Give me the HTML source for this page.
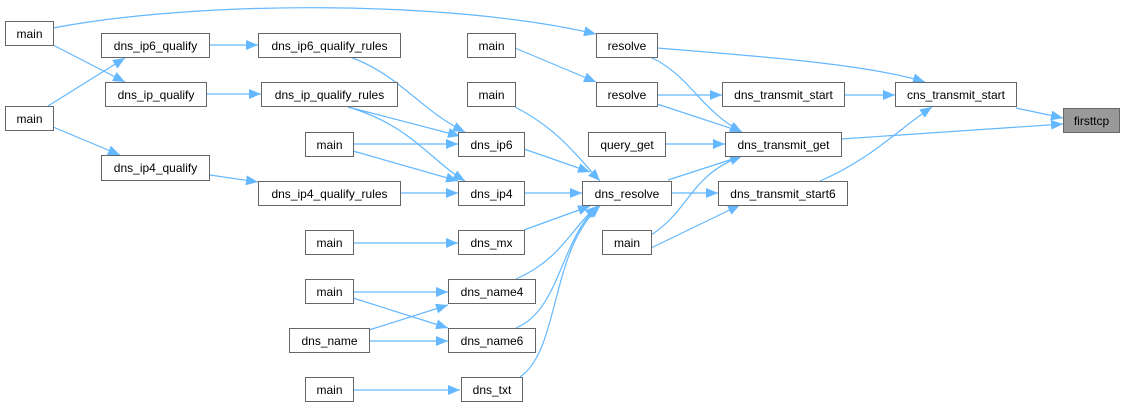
<!DOCTYPE html>
<html><head><meta charset="utf-8"><style>
html,body{margin:0;padding:0;background:#fff;}
svg{display:block;}
text{font-family:"Liberation Sans",Arial,sans-serif;font-size:12px;fill:#000;}
</style></head><body>
<svg width="1125" height="408" viewBox="0 0 1125 408" xmlns="http://www.w3.org/2000/svg">
<defs><marker id="a" markerUnits="userSpaceOnUse" markerWidth="13" markerHeight="10" refX="12" refY="5" orient="auto"><path d="M0,0 L12,5 L0,10 z" fill="#63b8ff"/></marker></defs>
<g fill="none" stroke="#63b8ff" stroke-width="1.2" marker-end="url(#a)">
<path d="M53,28 C200,0 450,0 596,34"/>
<path d="M53,45 L125,82"/>
<path d="M48,106 L125,58"/>
<path d="M53,127 L120,155"/>
<path d="M210,45 L258,45"/>
<path d="M206,94 L261,94"/>
<path d="M210,175 L258,182"/>
<path d="M350,57 C400,75 420,110 465,132"/>
<path d="M348,107 L460,136"/>
<path d="M348,107 C410,125 430,160 465,181"/>
<path d="M353,144 L458,144"/>
<path d="M353,151 L458,181"/>
<path d="M400,193 L458,193"/>
<path d="M524,149 L590,172"/>
<path d="M524,193 L582,193"/>
<path d="M524,230 L590,206"/>
<path d="M516,279 C560,260 570,230 597,206"/>
<path d="M516,328 C560,310 560,240 598,206"/>
<path d="M520,377 C560,350 550,250 600,206"/>
<path d="M515,107 C560,130 580,160 600,181"/>
<path d="M515,48 L596,82"/>
<path d="M353,243 L458,243"/>
<path d="M353,292 L448,292"/>
<path d="M353,298 L448,328"/>
<path d="M369,330 L448,305"/>
<path d="M369,341 L448,341"/>
<path d="M353,390 L460,390"/>
<path d="M657,48 C770,57 870,65 925,82"/>
<path d="M650,57 C690,75 700,110 742,132"/>
<path d="M657,95 L722,95"/>
<path d="M657,104 L742,132"/>
<path d="M665,144 L725,144"/>
<path d="M668,180 L742,156"/>
<path d="M671,193 L718,193"/>
<path d="M651,235 C690,210 690,175 742,156"/>
<path d="M651,248 L740,205"/>
<path d="M820,181 C870,160 900,128 932,107"/>
<path d="M844,95 L895,95"/>
<path d="M1016,108 L1063,118"/>
<path d="M841,139 L1063,124"/>
</g>
<g stroke="#666" stroke-width="1" fill="#fff">
<rect x="5.5" y="21.5" width="48" height="24"/>
<rect x="101.5" y="33.5" width="108" height="24"/>
<rect x="258.5" y="33.5" width="142" height="24"/>
<rect x="467.5" y="33.5" width="48" height="24"/>
<rect x="596.5" y="33.5" width="61" height="24"/>
<rect x="105.5" y="82.5" width="101" height="24"/>
<rect x="261.5" y="82.5" width="136" height="24"/>
<rect x="467.5" y="82.5" width="48" height="24"/>
<rect x="596.5" y="82.5" width="61" height="24"/>
<rect x="722.5" y="82.5" width="122" height="24"/>
<rect x="895.5" y="82.5" width="121" height="24"/>
<rect x="1063.5" y="108.5" width="56" height="24" fill="#999"/>
<rect x="5.5" y="106.5" width="48" height="24"/>
<rect x="305.5" y="132.5" width="48" height="24"/>
<rect x="458.5" y="132.5" width="66" height="24"/>
<rect x="588.5" y="132.5" width="77" height="24"/>
<rect x="725.5" y="132.5" width="116" height="24"/>
<rect x="101.5" y="155.5" width="108" height="25"/>
<rect x="258.5" y="181.5" width="142" height="24"/>
<rect x="458.5" y="181.5" width="66" height="24"/>
<rect x="582.5" y="181.5" width="89" height="24"/>
<rect x="718.5" y="181.5" width="129" height="24"/>
<rect x="305.5" y="230.5" width="48" height="24"/>
<rect x="458.5" y="230.5" width="66" height="24"/>
<rect x="602.5" y="230.5" width="49" height="24"/>
<rect x="305.5" y="279.5" width="48" height="24"/>
<rect x="448.5" y="279.5" width="87" height="24"/>
<rect x="289.5" y="328.5" width="80" height="24"/>
<rect x="448.5" y="328.5" width="87" height="24"/>
<rect x="305.5" y="377.5" width="48" height="24"/>
<rect x="461.5" y="377.5" width="61" height="24"/>
</g>
<g text-anchor="middle">
<text x="29.5" y="38">main</text>
<text x="155.5" y="50">dns_ip6_qualify</text>
<text x="329.5" y="50">dns_ip6_qualify_rules</text>
<text x="491.5" y="50">main</text>
<text x="627" y="50">resolve</text>
<text x="156" y="99">dns_ip_qualify</text>
<text x="329.5" y="99">dns_ip_qualify_rules</text>
<text x="491.5" y="99">main</text>
<text x="627" y="99">resolve</text>
<text x="783.5" y="99">dns_transmit_start</text>
<text x="956" y="99">cns_transmit_start</text>
<text x="1091.5" y="125">firsttcp</text>
<text x="29.5" y="123">main</text>
<text x="329.5" y="149">main</text>
<text x="491.5" y="149">dns_ip6</text>
<text x="627" y="149">query_get</text>
<text x="783.5" y="149">dns_transmit_get</text>
<text x="155.5" y="172">dns_ip4_qualify</text>
<text x="329.5" y="198">dns_ip4_qualify_rules</text>
<text x="491.5" y="198">dns_ip4</text>
<text x="627" y="198">dns_resolve</text>
<text x="783" y="198">dns_transmit_start6</text>
<text x="329.5" y="247">main</text>
<text x="491.5" y="247">dns_mx</text>
<text x="627" y="247">main</text>
<text x="329.5" y="296">main</text>
<text x="492" y="296">dns_name4</text>
<text x="329.5" y="345">dns_name</text>
<text x="492" y="345">dns_name6</text>
<text x="329.5" y="394">main</text>
<text x="492" y="394">dns_txt</text>
</g>
</svg>
</body></html>
